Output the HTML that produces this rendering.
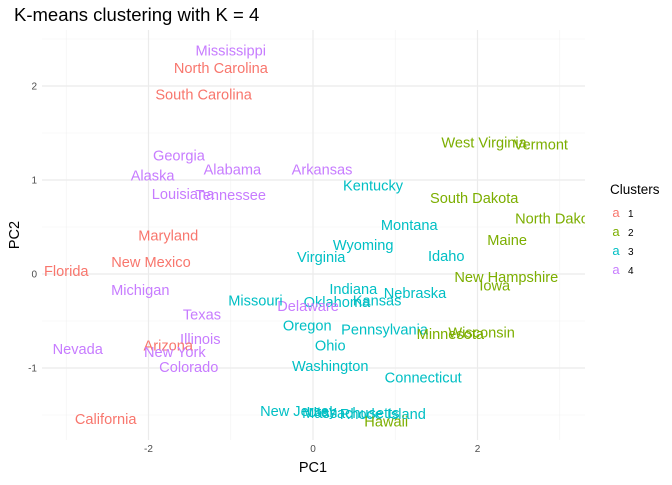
<!DOCTYPE html>
<html><head><meta charset="utf-8"><style>body{margin:0;background:#fff}svg{font-family:"Liberation Sans",sans-serif}</style></head>
<body>
<svg id="c" width="672" height="480"></svg>
<script>
const states=["Mississippi","North Carolina","South Carolina","Georgia","Alabama","Arkansas","Alaska","Louisiana","Tennessee","Kentucky","West Virginia","Vermont","South Dakota","North Dakota","Maine","Montana","Wyoming","Idaho","Virginia","Maryland","New Mexico","Florida","New Hampshire","Iowa","Nebraska","Indiana","Kansas","Oklahoma","Delaware","Missouri","Michigan","Texas","Oregon","Pennsylvania","Wisconsin","Minnesota","Illinois","Arizona","Nevada","New York","Ohio","Colorado","Washington","Connecticut","New Jersey","Utah","Massachusetts","Rhode Island","Hawaii","California"];
const pc1=[-1.0,-1.12,-1.33,-1.63,-0.98,0.11,-1.95,-1.58,-1.00,0.73,2.08,2.77,1.96,2.98,2.36,1.17,0.61,1.62,0.10,-1.76,-1.97,-3.0,2.35,2.21,1.24,0.49,0.78,0.29,-0.06,-0.70,-2.10,-1.35,-0.07,0.87,2.05,1.67,-1.37,-1.76,-2.86,-1.68,0.21,-1.51,0.21,1.34,-0.18,0.11,0.46,0.85,0.89,-2.52];
const pc2=[2.38,2.19,1.91,1.26,1.11,1.11,1.05,0.85,0.84,0.94,1.40,1.38,0.81,0.59,0.36,0.52,0.31,0.19,0.18,0.41,0.13,0.03,-0.03,-0.12,-0.20,-0.16,-0.28,-0.30,-0.34,-0.28,-0.17,-0.43,-0.55,-0.59,-0.62,-0.64,-0.69,-0.76,-0.80,-0.83,-0.76,-0.99,-0.98,-1.10,-1.46,-1.47,-1.48,-1.49,-1.57,-1.54];
const cluster=[4,1,1,4,4,4,4,4,4,3,2,2,2,2,2,3,3,3,3,1,1,1,2,2,3,3,3,3,4,3,4,4,3,3,2,2,4,1,4,4,3,4,3,3,3,3,3,3,2,1];
const xTicks=[-2,0,2];
const yTicks=[-1,0,1,2];
const colors={1:"#F8766D",2:"#7CAE00",3:"#00BFC4",4:"#C77CFF"};
const NS="http://www.w3.org/2000/svg";
const svg=document.getElementById("c");
const L=42,R=585,T=30,B=440;
const sx=v=>313+v*82.25, sy=v=>274-v*94;
function el(t,a,p){const e=document.createElementNS(NS,t);for(const k in a)e.setAttribute(k,a[k]);(p||svg).appendChild(e);return e;}
const defs=el("defs",{});const cp=el("clipPath",{id:"pc"},defs);el("rect",{x:L,y:T,width:R-L,height:B-T},cp);
const grid=el("g",{});


[-3,-1,1,3].forEach(v=>el("line",{x1:sx(v),x2:sx(v),y1:T,y2:B,stroke:"#f2f2f2","stroke-width":0.6},grid));
[-1.5,-0.5,0.5,1.5,2.5].forEach(v=>el("line",{x1:L,x2:R,y1:sy(v),y2:sy(v),stroke:"#f2f2f2","stroke-width":0.6},grid));
xTicks.forEach(v=>{el("line",{x1:sx(v),x2:sx(v),y1:T,y2:B,stroke:"#ebebeb","stroke-width":1.2},grid);
 const t=el("text",{x:sx(v),y:452,"text-anchor":"middle","font-size":10,fill:"#4d4d4d"});t.textContent=v;
 });
yTicks.forEach(v=>{el("line",{x1:L,x2:R,y1:sy(v),y2:sy(v),stroke:"#ebebeb","stroke-width":1.2},grid);
 const t=el("text",{x:37,y:sy(v)+3.5,"text-anchor":"end","font-size":10,fill:"#4d4d4d"});t.textContent=v;
 });
const g=el("g",{"clip-path":"url(#pc)"});
states.forEach((s,i)=>{const t=el("text",{x:sx(pc1[i]),y:sy(pc2[i])+5,"text-anchor":"middle","font-size":14.6,fill:colors[cluster[i]]},g);t.textContent=s;
 });
let t=el("text",{x:14,y:21,"font-size":18.5,fill:"#000"});t.textContent="K-means clustering with K = 4";

t=el("text",{x:313,y:472,"text-anchor":"middle","font-size":14.5});t.textContent="PC1";

t=el("text",{x:19,y:235,"text-anchor":"middle","font-size":14.5,transform:"rotate(-90 19 235)"});t.textContent="PC2";

t=el("text",{x:610,y:194,"font-size":13.5});t.textContent="Clusters";

[1,2,3,4].forEach((k,i)=>{const y=217+i*19;
 const a=el("text",{x:616,y:y,"text-anchor":"middle","font-size":13,fill:colors[k]});a.textContent="a";
 
 const b=el("text",{x:628,y:y,"font-size":10,fill:"#000"});b.textContent=k;
 });
</script>
</body></html>
